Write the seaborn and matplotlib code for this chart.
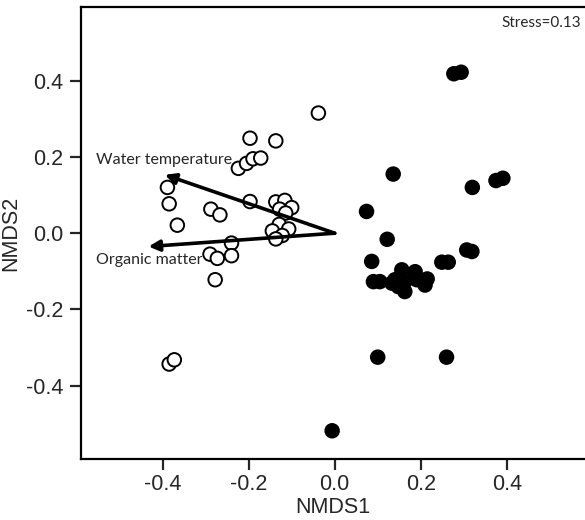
import matplotlib
matplotlib.use("Agg")
import matplotlib.pyplot as plt
import seaborn as sns
import pandas as pd

# --- data ---
open_x = [-0.038, -0.197, -0.137, -0.224, -0.205, -0.190, -0.172, -0.389, -0.385, -0.366,
          -0.288, -0.267, -0.197, -0.137, -0.116, -0.100, -0.128, -0.114, -0.129, -0.107,
          -0.145, -0.122, -0.137, -0.240, -0.240, -0.290, -0.273, -0.278, -0.385, -0.373]
open_y = [0.315, 0.249, 0.242, 0.170, 0.183, 0.195, 0.197, 0.120, 0.077, 0.021,
          0.063, 0.048, 0.083, 0.082, 0.086, 0.067, 0.063, 0.053, 0.023, 0.011,
          0.006, -0.006, -0.015, -0.026, -0.059, -0.055, -0.066, -0.122, -0.343, -0.332]
filled_x = [0.277, 0.294, 0.136, 0.320, 0.375, 0.391, 0.074, 0.122, 0.307, 0.319,
            0.086, 0.249, 0.264, 0.090, 0.105, 0.133, 0.140, 0.156, 0.187, 0.163,
            0.148, 0.163, 0.191, 0.210, 0.215, 0.100, 0.260, -0.006]
filled_y = [0.418, 0.422, 0.155, 0.120, 0.138, 0.144, 0.057, -0.016, -0.044, -0.048,
            -0.074, -0.076, -0.076, -0.127, -0.127, -0.131, -0.122, -0.096, -0.101, -0.127,
            -0.140, -0.153, -0.122, -0.136, -0.120, -0.325, -0.325, -0.518]
groups = ["open", "filled"]
vector_names = ["Water temperature", "Organic matter"]
vector_x = [-0.395, -0.433]
vector_y = [0.153, -0.035]
stress_label = "Stress=0.13"
x_ticks = [-0.4, -0.2, 0.0, 0.2, 0.4]
y_ticks = [-0.4, -0.2, 0.0, 0.2, 0.4]

df = pd.DataFrame({
    "NMDS1": open_x + filled_x,
    "NMDS2": open_y + filled_y,
    "group": [groups[0]] * len(open_x) + [groups[1]] * len(filled_x),
})

sns.set_style("white")
plt.rcParams["font.family"] = ["Liberation Sans", "DejaVu Sans"]

fig = plt.figure(figsize=(5.85, 5.2), dpi=100)
ax = fig.add_axes([81 / 585, 61 / 520, 504 / 585, 452 / 520])

sns.scatterplot(data=df, x="NMDS1", y="NMDS2", hue="group",
                palette={"open": "white", "filled": "black"},
                edgecolor="black", linewidth=1.4, s=95, legend=False, ax=ax, zorder=2)

for name, vx, vy in zip(vector_names, vector_x, vector_y):
    ax.annotate("", xy=(vx, vy), xytext=(0.0, 0.0),
                arrowprops=dict(arrowstyle="-|>", lw=2.6, color="black",
                                mutation_scale=16, shrinkA=0, shrinkB=0),
                zorder=3)

ax.text(-0.556, 0.191, vector_names[0], fontsize=11.5, family=["Lato", "DejaVu Sans"],
        ha="left", va="center", zorder=4)
ax.text(-0.556, -0.070, vector_names[1], fontsize=11.5, family=["Lato", "DejaVu Sans"],
        ha="left", va="center", zorder=4)
ax.text(0.992, 0.965, stress_label, transform=ax.transAxes, fontsize=11,
        family=["Lato", "DejaVu Sans"], ha="right", va="center")

ax.set_xlim(-0.59, 0.582)
ax.set_ylim(-0.592, 0.593)
ax.set_xticks(x_ticks)
ax.set_yticks(y_ticks)
ax.set_xticklabels([f"{t:.1f}" for t in x_ticks])
ax.set_yticklabels([f"{t:.1f}" for t in y_ticks])
ax.set_xlabel("NMDS1", fontsize=15.5, labelpad=1.5)
ax.set_ylabel("NMDS2", fontsize=15.5, labelpad=3)
ax.tick_params(axis="both", direction="out", length=8, width=1.6, labelsize=15.5,
               bottom=True, left=True, top=False, right=False)
ax.tick_params(axis="x", pad=3)
ax.tick_params(axis="y", pad=5)
for side in ["left", "top", "bottom"]:
    ax.spines[side].set_visible(True)
    ax.spines[side].set_color("black")
    ax.spines[side].set_linewidth(1.6)
ax.spines["right"].set_visible(False)

fig.savefig("out.png", dpi=100)
